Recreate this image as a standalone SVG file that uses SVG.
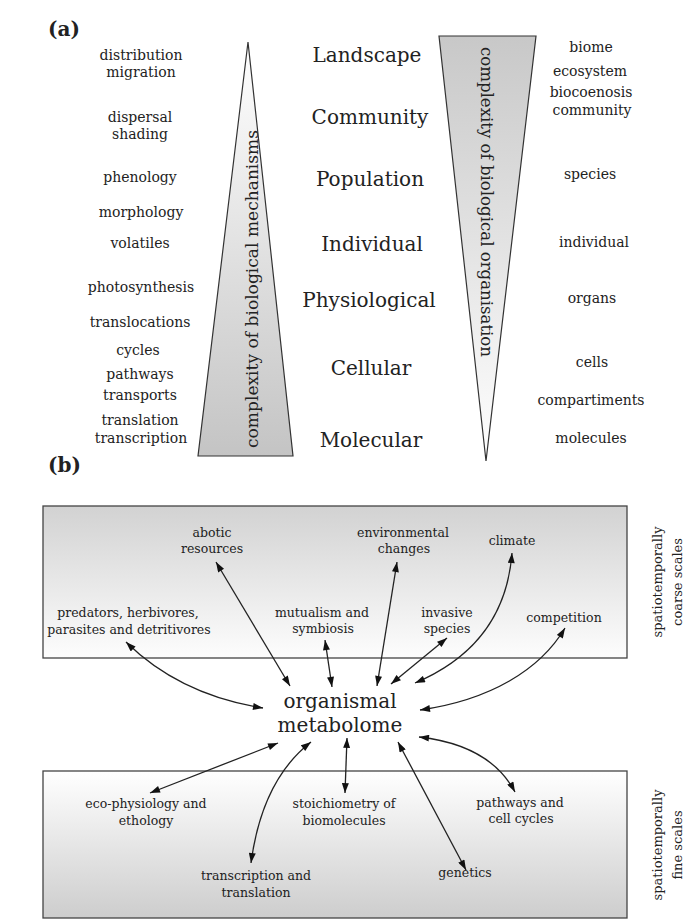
<svg xmlns="http://www.w3.org/2000/svg" width="684" height="920" viewBox="0 0 684 920">
<style>
text{font-family:"DejaVu Serif","Liberation Serif",serif;fill:#222;}
.lab{font-size:14px;text-anchor:middle;}
.lvl{font-size:20px;text-anchor:middle;}
.sm{font-size:12.5px;text-anchor:middle;}
.side{font-size:13px;text-anchor:middle;}
.big{font-size:20px;text-anchor:middle;}
.tag{font-size:20px;font-weight:bold;}
.tri{stroke:#333;stroke-width:1.2;}
.box{stroke:#444;stroke-width:1.3;}
.arr{fill:none;stroke:#222;stroke-width:1.3;marker-start:url(#ah);marker-end:url(#ah);}
</style>
<defs>
<marker id="ah" viewBox="0 0 10 7" refX="10" refY="3.5" markerWidth="11" markerHeight="7" markerUnits="userSpaceOnUse" orient="auto-start-reverse">
<path d="M0,0 L10,3.5 L0,7 z" fill="#111"/>
</marker>
<linearGradient id="gUp" x1="0" y1="0" x2="0" y2="1">
<stop offset="0" stop-color="#ffffff"/><stop offset="1" stop-color="#c4c4c4"/>
</linearGradient>
<linearGradient id="gDown" x1="0" y1="0" x2="0" y2="1">
<stop offset="0" stop-color="#c8c8c8"/><stop offset="1" stop-color="#ffffff"/>
</linearGradient>
<linearGradient id="gTop" x1="0" y1="0" x2="0" y2="1">
<stop offset="0" stop-color="#d2d2d2"/><stop offset="1" stop-color="#fdfdfd"/>
</linearGradient>
<linearGradient id="gBot" x1="0" y1="0" x2="0" y2="1">
<stop offset="0" stop-color="#ffffff"/><stop offset="1" stop-color="#cdcdcd"/>
</linearGradient>
</defs>

<text class="tag" x="48" y="36">(a)</text>

<g id="mech-triangle">
<polygon class="tri" points="248,42 198,456 293,456" fill="url(#gUp)"/>
<text transform="translate(258,289) rotate(-90)" style="font-size:16.5px;text-anchor:middle" textLength="318" lengthAdjust="spacingAndGlyphs">complexity of biological mechanisms</text>
</g>

<g id="org-triangle">
<polygon class="tri" points="439,36 536,36 486,461" fill="url(#gDown)"/>
<text transform="translate(481,202) rotate(90)" style="font-size:16.5px;text-anchor:middle" textLength="310" lengthAdjust="spacingAndGlyphs">complexity of biological organisation</text>
</g>

<g id="mechanisms">
<text class="lab" x="141" y="60">distribution</text>
<text class="lab" x="141" y="77">migration</text>
<text class="lab" x="140" y="122">dispersal</text>
<text class="lab" x="140" y="139">shading</text>
<text class="lab" x="140" y="182">phenology</text>
<text class="lab" x="141" y="217">morphology</text>
<text class="lab" x="140" y="248">volatiles</text>
<text class="lab" x="141" y="292">photosynthesis</text>
<text class="lab" x="140" y="327">translocations</text>
<text class="lab" x="138" y="355">cycles</text>
<text class="lab" x="140" y="379">pathways</text>
<text class="lab" x="140" y="400">transports</text>
<text class="lab" x="140" y="425">translation</text>
<text class="lab" x="141" y="443">transcription</text>
</g>

<g id="levels">
<text class="lvl" x="367" y="62">Landscape</text>
<text class="lvl" x="370" y="124">Community</text>
<text class="lvl" x="370" y="186">Population</text>
<text class="lvl" x="372" y="251">Individual</text>
<text class="lvl" x="369" y="307">Physiological</text>
<text class="lvl" x="371" y="375">Cellular</text>
<text class="lvl" x="371" y="447">Molecular</text>
</g>

<g id="organisation">
<text class="lab" x="591" y="52">biome</text>
<text class="lab" x="590" y="76">ecosystem</text>
<text class="lab" x="591" y="97">biocoenosis</text>
<text class="lab" x="592" y="115">community</text>
<text class="lab" x="590" y="179">species</text>
<text class="lab" x="594" y="247">individual</text>
<text class="lab" x="592" y="303">organs</text>
<text class="lab" x="592" y="367">cells</text>
<text class="lab" x="591" y="405">compartiments</text>
<text class="lab" x="591" y="443">molecules</text>
</g>

<text class="tag" x="48" y="472">(b)</text>

<g id="coarse-box">
<rect class="box" x="43" y="506" width="584" height="152" fill="url(#gTop)"/>
<text class="side" transform="translate(662,582) rotate(-90)">spatiotemporally</text>
<text class="side" transform="translate(682,582) rotate(-90)">coarse scales</text>
</g>

<g id="fine-box">
<rect class="box" x="43" y="771" width="584" height="147" fill="url(#gBot)"/>
<text class="side" transform="translate(662,845) rotate(-90)">spatiotemporally</text>
<text class="side" transform="translate(682,845) rotate(-90)">fine scales</text>
</g>

<g id="n-abotic"><text class="sm" x="212" y="537">abotic</text><text class="sm" x="212" y="553">resources</text></g>
<g id="n-env"><text class="sm" x="403" y="537">environmental</text><text class="sm" x="404" y="553">changes</text></g>
<g id="n-climate"><text class="sm" x="512" y="545">climate</text></g>
<g id="n-predators"><text class="sm" x="128" y="617">predators, herbivores,</text><text class="sm" x="129" y="634">parasites and detritivores</text></g>
<g id="n-mutualism"><text class="sm" x="322" y="617">mutualism and</text><text class="sm" x="323" y="633">symbiosis</text></g>
<g id="n-invasive"><text class="sm" x="447" y="617">invasive</text><text class="sm" x="447" y="633">species</text></g>
<g id="n-competition"><text class="sm" x="564" y="622">competition</text></g>

<g id="n-metabolome"><text class="big" x="340" y="708">organismal</text><text class="big" x="340" y="732">metabolome</text></g>

<g id="n-ecophys"><text class="sm" x="146" y="808">eco-physiology and</text><text class="sm" x="146" y="825">ethology</text></g>
<g id="n-stoich"><text class="sm" x="344" y="808">stoichiometry of</text><text class="sm" x="344" y="825">biomolecules</text></g>
<g id="n-pathways"><text class="sm" x="520" y="807">pathways and</text><text class="sm" x="521" y="823">cell cycles</text></g>
<g id="n-transcription"><text class="sm" x="256" y="880">transcription and</text><text class="sm" x="256" y="897">translation</text></g>
<g id="n-genetics"><text class="sm" x="465" y="877">genetics</text></g>

<g id="connectors">
<path class="arr" d="M126,642 Q180,695 263,708"/>
<path class="arr" d="M216,562 L290,686"/>
<path class="arr" d="M325,640 L332,687"/>
<path class="arr" d="M397,562 L377,686"/>
<path class="arr" d="M447,638 L391,684"/>
<path class="arr" d="M512,553 Q505,645 415,683"/>
<path class="arr" d="M565,628 C540,670 490,700 420,710"/>
<path class="arr" d="M150,793 L278,743"/>
<path class="arr" d="M251,863 Q262,780 311,742"/>
<path class="arr" d="M347,738 L345,793"/>
<path class="arr" d="M398,742 L466,870"/>
<path class="arr" d="M419,737 Q490,745 515,792"/>
</g>
</svg>
